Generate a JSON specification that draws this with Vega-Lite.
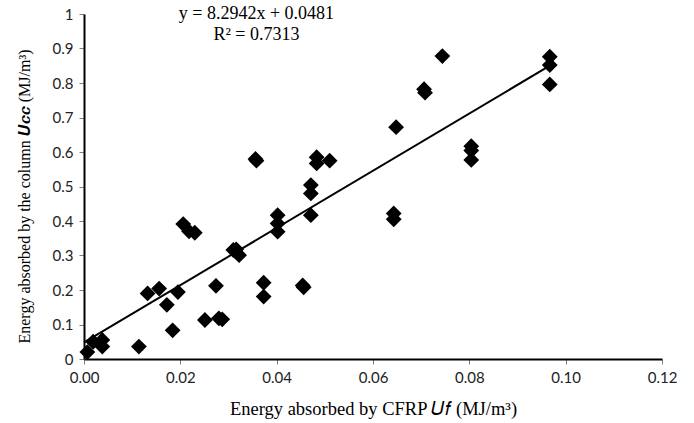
{
  "$schema": "https://vega.github.io/schema/vega-lite/v6.json",
  "width": 578,
  "height": 345,
  "autosize": {"type": "none"},
  "padding": {"left": 84, "top": 14, "right": 32, "bottom": 64},
  "background": "white",
  "config": {
    "view": {"stroke": null},
    "axis": {
      "grid": false,
      "domainColor": "black",
      "domainWidth": 2,
      "tickColor": "#808080",
      "tickSize": 5,
      "tickWidth": 1,
      "labelFont": "Lato",
      "labelFontSize": 15,
      "labelColor": "#222222",
      "labelFlush": false,
      "titleFont": "Liberation Serif",
      "titleFontSize": 18,
      "titleFontWeight": "normal",
      "titleColor": "black"
    }
  },
  "datasets": {
    "pts": [
      {"uf": 0.0007, "ucc": 0.020},
      {"uf": 0.0019, "ucc": 0.050},
      {"uf": 0.0038, "ucc": 0.055},
      {"uf": 0.0038, "ucc": 0.036},
      {"uf": 0.0114, "ucc": 0.036},
      {"uf": 0.0132, "ucc": 0.190},
      {"uf": 0.0156, "ucc": 0.204},
      {"uf": 0.0172, "ucc": 0.157},
      {"uf": 0.0184, "ucc": 0.083},
      {"uf": 0.0195, "ucc": 0.194},
      {"uf": 0.0206, "ucc": 0.391},
      {"uf": 0.0218, "ucc": 0.370},
      {"uf": 0.0230, "ucc": 0.366},
      {"uf": 0.0251, "ucc": 0.113},
      {"uf": 0.0274, "ucc": 0.212},
      {"uf": 0.0280, "ucc": 0.118},
      {"uf": 0.0287, "ucc": 0.115},
      {"uf": 0.0310, "ucc": 0.316},
      {"uf": 0.0316, "ucc": 0.318},
      {"uf": 0.0322, "ucc": 0.301},
      {"uf": 0.0356, "ucc": 0.580},
      {"uf": 0.0358, "ucc": 0.575},
      {"uf": 0.0373, "ucc": 0.221},
      {"uf": 0.0373, "ucc": 0.181},
      {"uf": 0.0402, "ucc": 0.417},
      {"uf": 0.0402, "ucc": 0.393},
      {"uf": 0.0402, "ucc": 0.369},
      {"uf": 0.0454, "ucc": 0.213},
      {"uf": 0.0456, "ucc": 0.208},
      {"uf": 0.0471, "ucc": 0.504},
      {"uf": 0.0471, "ucc": 0.480},
      {"uf": 0.0471, "ucc": 0.417},
      {"uf": 0.0483, "ucc": 0.585},
      {"uf": 0.0483, "ucc": 0.567},
      {"uf": 0.0510, "ucc": 0.575},
      {"uf": 0.0643, "ucc": 0.422},
      {"uf": 0.0643, "ucc": 0.405},
      {"uf": 0.0648, "ucc": 0.672},
      {"uf": 0.0706, "ucc": 0.782},
      {"uf": 0.0708, "ucc": 0.772},
      {"uf": 0.0744, "ucc": 0.878},
      {"uf": 0.0804, "ucc": 0.617},
      {"uf": 0.0804, "ucc": 0.604},
      {"uf": 0.0804, "ucc": 0.577},
      {"uf": 0.0967, "ucc": 0.876},
      {"uf": 0.0967, "ucc": 0.852},
      {"uf": 0.0967, "ucc": 0.796}
    ],
    "trend": [
      {"uf": 0.0, "ucc": 0.0481},
      {"uf": 0.0967, "ucc": 0.8502}
    ],
    "eq": [
      {"uf": 0.0358, "ucc": 1.0, "label": "y = 8.2942x + 0.0481"},
      {"uf": 0.0358, "ucc": 0.939, "label": "R² = 0.7313"}
    ]
  },
  "layer": [
    {
      "data": {"name": "pts"},
      "mark": {"type": "point", "shape": "diamond", "filled": true, "color": "black", "opacity": 1, "size": 250},
      "encoding": {
        "x": {
          "field": "uf", "type": "quantitative",
          "scale": {"domain": [0, 0.12], "nice": false, "zero": true},
          "axis": {"values": [0, 0.02, 0.04, 0.06, 0.08, 0.1, 0.12], "format": ".2f", "labelPadding": 6, "titlePadding": 14, "titleFontSize": 18.5,
                   "title": "Energy absorbed by CFRP 𝑈𝑓 (MJ/m³)"}
        },
        "y": {
          "field": "ucc", "type": "quantitative",
          "scale": {"domain": [0, 1], "nice": false},
          "axis": {"tickCount": 10, "labelExpr": "datum.value == 0 ? '0' : datum.value == 1 ? '1' : format(datum.value, '.1f')", "labelOverlap": false, "labelBound": false, "labelPadding": 6, "titlePadding": 20, "titleY": 182, "titleFontSize": 16,
                   "title": "Energy absorbed by the column 𝑼𝒄𝒄 (MJ/m³)"}
        }
      }
    },
    {
      "data": {"name": "trend"},
      "mark": {"type": "line", "color": "black", "strokeWidth": 2},
      "encoding": {
        "x": {"field": "uf", "type": "quantitative"},
        "y": {"field": "ucc", "type": "quantitative"}
      }
    },
    {
      "data": {"name": "eq"},
      "mark": {"type": "text", "font": "Liberation Serif", "fontSize": 18, "color": "black", "align": "center", "baseline": "middle", "clip": false},
      "encoding": {
        "x": {"field": "uf", "type": "quantitative"},
        "y": {"field": "ucc", "type": "quantitative"},
        "text": {"field": "label"}
      }
    }
  ]
}
